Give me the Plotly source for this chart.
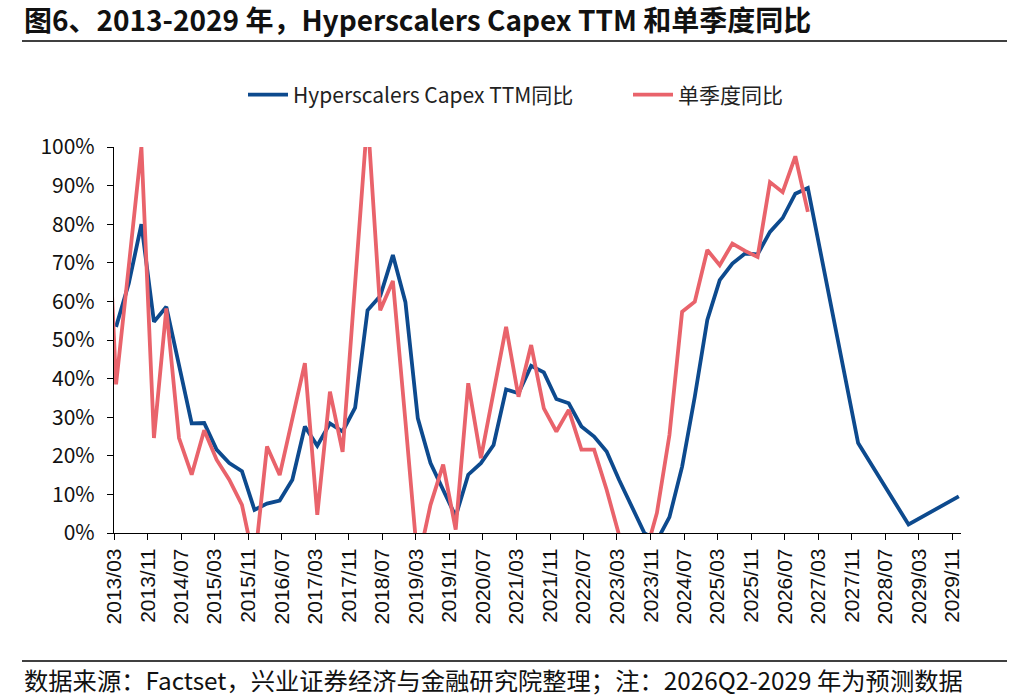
import plotly.graph_objects as go

# ---------------- data ----------------
# quarterly categories (quarter-end months)
quarters = [f"{y}/{m:02d}" for y in range(2013, 2027) for m in (3, 6, 9, 12)]
annual_forecast = ["2027/12", "2028/12", "2029/12"]

# Hyperscalers Capex TTM YoY (%), 2013/03 .. 2026/12
ttm_yoy = [53.4, 64.6, 80.0, 54.7, 58.6, 43.5, 28.4, 28.5, 21.6, 18.1,
           16.0, 6.0, 7.6, 8.4, 13.8, 27.6, 22.6, 28.4, 26.3, 32.5,
           57.7, 61.4, 72.0, 59.8, 29.7, 18.1, 11.2, 4.3, 15.1, 18.1,
           22.8, 37.2, 36.2, 43.3, 41.6, 34.7, 33.6, 27.6, 25.0, 21.1,
           13.8, 6.9, 0.0, -2.0, 4.1, 17.2, 35.3, 55.2, 65.5, 69.8,
           72.4, 72.2, 78.0, 81.6, 87.9, 89.4]
# annual forecast TTM YoY (%)
ttm_yoy_forecast = [23.3, 2.2, 9.5]

# single-quarter YoY (%), 2012/12 .. 2026/12
sq_periods = ["2012/12"] + quarters
sq_yoy = [110.0,
          38.5, 69.0, 100.0, 24.6, 58.2, 24.6, 15.1, 26.6, 19.0, 13.8,
          7.3, -8.0, 22.4, 15.0, 29.5, 44.0, 4.7, 36.6, 21.0, 65.0,
          108.0, 57.7, 65.3, 29.0, -8.0, 7.3, 17.7, 0.9, 38.8, 19.4,
          36.0, 53.4, 35.3, 48.7, 32.3, 26.3, 31.9, 21.6, 21.6, 11.2,
          -0.5, -12.0, -6.5, 5.2, 25.4, 57.3, 59.9, 73.3, 69.4, 75.0,
          73.1, 71.5, 90.9, 88.3, 97.6, 83.2]

x_tick_labels = ["2013/03", "2013/11", "2014/07", "2015/03", "2015/11", "2016/07",
                 "2017/03", "2017/11", "2018/07", "2019/03", "2019/11", "2020/07",
                 "2021/03", "2021/11", "2022/07", "2023/03", "2023/11", "2024/07",
                 "2025/03", "2025/11", "2026/07", "2027/03", "2027/11", "2028/07",
                 "2029/03", "2029/11"]
y_ticks = [0, 10, 20, 30, 40, 50, 60, 70, 80, 90, 100]

series_names = ["Hyperscalers Capex TTM同比", "单季度同比"]
title_text = "图6、2013-2029 年，Hyperscalers Capex TTM 和单季度同比"
source_text = "数据来源：Factset，兴业证券经济与金融研究院整理；注：2026Q2-2029 年为预测数据"


# ---------------- helpers ----------------
def mid_month(lbl):
    y, m = lbl.split("/")
    return f"{y}-{m}-16"


def month_start(lbl):
    y, m = lbl.split("/")
    return f"{y}-{m}-01"


BLUE = "#0D4A8E"
RED = "#E9636B"
CJK = "Noto Sans CJK SC"

# plot area in pixels
L, R, T, B = 114, 961, 147, 533
W, H = 1012, 696


def px_x(x):
    return (x - L) / (R - L)


def px_y(y):
    return (B - y) / (B - T)


fig = go.Figure()
fig.add_trace(go.Scatter(
    x=[mid_month(q) for q in quarters + annual_forecast],
    y=ttm_yoy + ttm_yoy_forecast,
    mode="lines", name=series_names[0], legend="legend",
    line=dict(color=BLUE, width=3.8),
))
fig.add_trace(go.Scatter(
    x=[mid_month(q) for q in sq_periods],
    y=sq_yoy,
    mode="lines", name=series_names[1], legend="legend2",
    line=dict(color=RED, width=3.8),
))

legend_common = dict(orientation="h", yanchor="middle", xanchor="left",
                     font=dict(family=CJK, size=21, color="#222222"),
                     bgcolor="rgba(0,0,0,0)", itemwidth=40)

fig.update_layout(
    width=W, height=H,
    margin=dict(l=L, r=W - R, t=T, b=H - B, pad=0),
    paper_bgcolor="white", plot_bgcolor="white",
    showlegend=True,
    legend=dict(x=px_x(243), y=px_y(95), **legend_common),
    legend2=dict(x=px_x(628), y=px_y(95), **legend_common),
    xaxis=dict(
        type="date",
        range=["2013-03-01", "2030-01-01"],
        tickvals=[month_start(t) for t in x_tick_labels],
        ticktext=x_tick_labels,
        tickangle=-90,
        ticks="outside", ticklen=6, tickwidth=1, tickcolor="black",
        showline=True, linecolor="black", linewidth=1.2,
        showgrid=False, zeroline=False,
        tickfont=dict(family="Liberation Sans, Arial", size=21, color="#111111"),
    ),
    yaxis=dict(
        range=[0, 100],
        tickvals=y_ticks,
        ticktext=[f"{v}%" for v in y_ticks],
        ticks="outside", ticklen=6, tickwidth=1, tickcolor="black",
        ticklabelstandoff=8,
        showline=True, linecolor="black", linewidth=1.2,
        showgrid=False, zeroline=False,
        tickfont=dict(family=CJK, size=21, color="#111111"),
    ),
    annotations=[
        dict(text=f"<b>{title_text}</b>", xref="paper", yref="paper",
             x=px_x(22), y=px_y(19), xanchor="left", yanchor="middle",
             showarrow=False, font=dict(family=CJK, size=28, color="#111111")),
        dict(text=source_text, xref="paper", yref="paper",
             x=px_x(22), y=px_y(679), xanchor="left", yanchor="middle",
             showarrow=False, font=dict(family=CJK, size=24.3, color="#111111")),
    ],
    shapes=[
        dict(type="line", xref="paper", yref="paper", x0=px_x(22), x1=px_x(1007),
             y0=px_y(41), y1=px_y(41), line=dict(color="black", width=1.5)),
        dict(type="line", xref="paper", yref="paper", x0=px_x(22), x1=px_x(1007),
             y0=px_y(661), y1=px_y(661), line=dict(color="black", width=1.5)),
    ],
)

fig.write_html("out.html")
